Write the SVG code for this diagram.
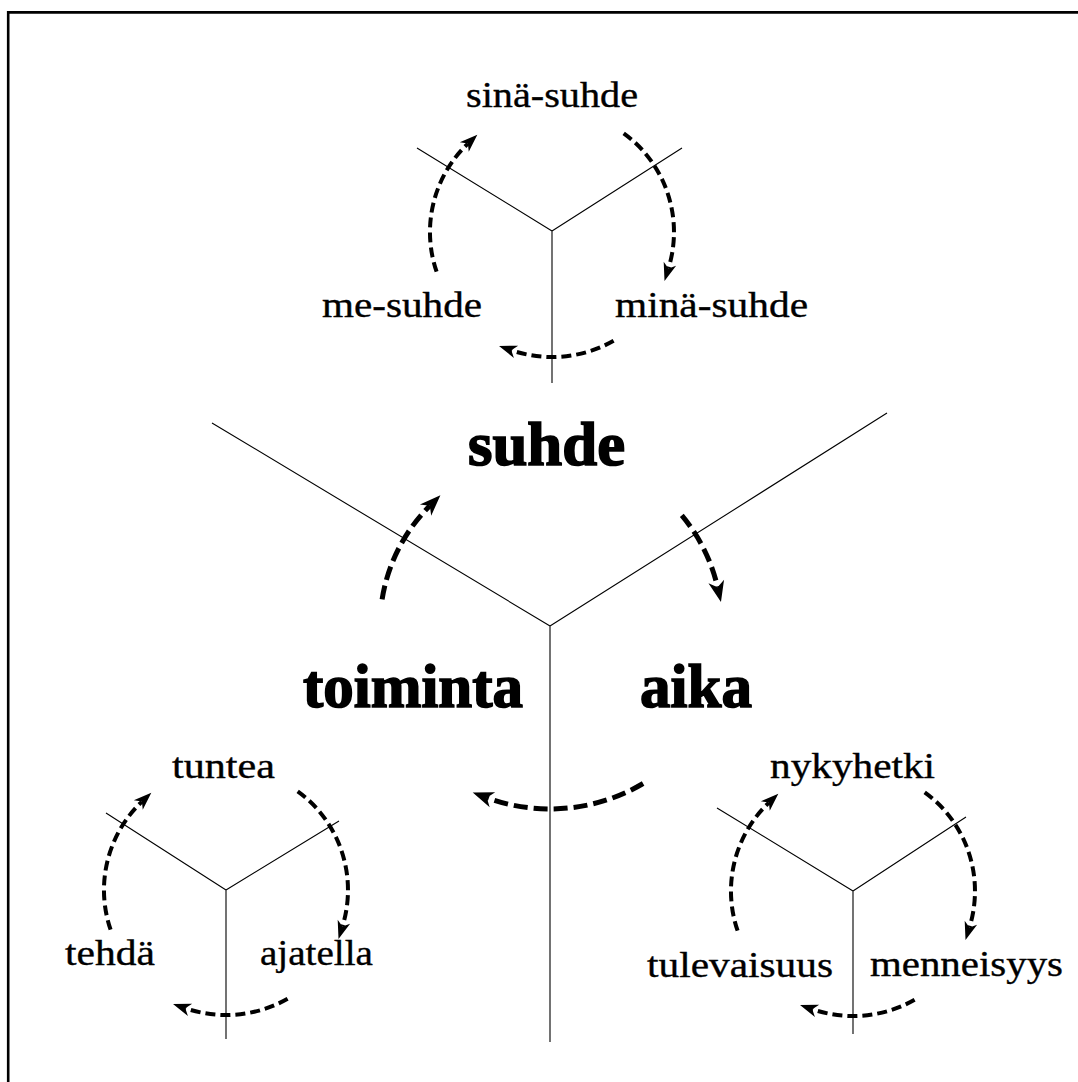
<svg xmlns="http://www.w3.org/2000/svg" width="1078" height="1082" viewBox="0 0 1078 1082">
  <style>
    .axis { stroke: #000; stroke-width: 1.1; fill: none; }
    .frame { stroke: #000; stroke-width: 2.6; fill: none; }
    .cyc { stroke: #000; stroke-width: 4; fill: none; stroke-dasharray: 10 5; marker-end: url(#headS); }
    .cycL { stroke: #000; stroke-width: 5; fill: none; stroke-dasharray: 14 6; marker-end: url(#headL); }
    .lbl { font-family: "Liberation Serif", "Times New Roman", serif; font-size: 35px; fill: #000; stroke: #000; stroke-width: 0.35; }
    .big { font-family: "Liberation Serif", "Times New Roman", serif; font-size: 61px; font-weight: bold; fill: #000; stroke: #000; stroke-width: 1.6; }
  </style>
  <defs>
    <marker id="headS" markerUnits="userSpaceOnUse" orient="auto" overflow="visible" markerWidth="1" markerHeight="1" refX="0" refY="0">
      <path d="M13,0 L-5,-6.5 L0,0 L-5,6.5 Z" fill="#000"/>
    </marker>
    <marker id="headL" markerUnits="userSpaceOnUse" orient="auto" overflow="visible" markerWidth="1" markerHeight="1" refX="0" refY="0">
      <path d="M15,0 L-6,-8 L0,0 L-6,8 Z" fill="#000"/>
    </marker>
  </defs>

  <rect width="1078" height="1082" fill="#fff"/>
  <path class="frame" d="M8.2,1082 V12.4 H1078"/>

  <!-- three-way axes -->
  <g id="axes-main">
    <path class="axis" d="M550,626 L212,423 M550,626 L887,413 M550,626 V1042"/>
  </g>
  <g id="axes-suhde">
    <path class="axis" d="M552,231 L417,148 M552,231 L682,148 M552,231 V383"/>
  </g>
  <g id="axes-toiminta">
    <path class="axis" d="M226,890 L106,813 M226,890 L339,821 M226,890 V1039"/>
  </g>
  <g id="axes-aika">
    <path class="axis" d="M853,891 L717,808 M853,891 L966,817 M853,891 V1034"/>
  </g>

  <!-- cycle arrows -->
  <g id="connectors">
    <path class="cycL" d="M382.1,599.4 A170,170 0 0 1 429.8,505.8"/>
    <path class="cycL" d="M681.8,515.4 A172,172 0 0 1 717.6,587.3"/>
    <path class="cycL" d="M643.1,783.5 A183,183 0 0 1 486.8,797.7"/>

    <path class="cyc" d="M436.6,271.7 A122,122 0 0 1 467.9,143.6"/>
    <path class="cyc" d="M623.7,133.3 A122,122 0 0 1 668.4,268.5"/>
    <path class="cyc" d="M613.6,340.8 A125,125 0 0 1 511.3,350.2"/>

    <path class="cyc" d="M110.6,929.7 A122,122 0 0 1 141.9,801.6"/>
    <path class="cyc" d="M297.7,791.3 A122,122 0 0 1 342.4,926.5"/>
    <path class="cyc" d="M287.6,998.8 A125,125 0 0 1 185.3,1008.2"/>

    <path class="cyc" d="M737.6,930.7 A122,122 0 0 1 768.9,802.6"/>
    <path class="cyc" d="M924.7,792.3 A122,122 0 0 1 969.4,927.5"/>
    <path class="cyc" d="M914.6,999.8 A125,125 0 0 1 812.3,1009.2"/>
  </g>

  <!-- main concepts -->
  <g id="node-suhde"><text class="big" x="468" y="465" textLength="157" lengthAdjust="spacingAndGlyphs">suhde</text></g>
  <g id="node-toiminta"><text class="big" x="303" y="707" textLength="220" lengthAdjust="spacingAndGlyphs">toiminta</text></g>
  <g id="node-aika"><text class="big" x="640" y="707" textLength="112" lengthAdjust="spacingAndGlyphs">aika</text></g>

  <!-- suhde sub-concepts -->
  <g id="node-sina-suhde"><text class="lbl" x="466" y="107" textLength="172" lengthAdjust="spacingAndGlyphs">sinä-suhde</text></g>
  <g id="node-me-suhde"><text class="lbl" x="322" y="317" textLength="160" lengthAdjust="spacingAndGlyphs">me-suhde</text></g>
  <g id="node-mina-suhde"><text class="lbl" x="615" y="317" textLength="193" lengthAdjust="spacingAndGlyphs">minä-suhde</text></g>

  <!-- toiminta sub-concepts -->
  <g id="node-tuntea"><text class="lbl" x="172" y="778" textLength="103" lengthAdjust="spacingAndGlyphs">tuntea</text></g>
  <g id="node-tehda"><text class="lbl" x="65" y="965" textLength="90" lengthAdjust="spacingAndGlyphs">tehdä</text></g>
  <g id="node-ajatella"><text class="lbl" x="260" y="965" textLength="113" lengthAdjust="spacingAndGlyphs">ajatella</text></g>

  <!-- aika sub-concepts -->
  <g id="node-nykyhetki"><text class="lbl" x="770" y="778" textLength="165" lengthAdjust="spacingAndGlyphs">nykyhetki</text></g>
  <g id="node-tulevaisuus"><text class="lbl" x="647" y="977" textLength="186" lengthAdjust="spacingAndGlyphs">tulevaisuus</text></g>
  <g id="node-menneisyys"><text class="lbl" x="870" y="976" textLength="193" lengthAdjust="spacingAndGlyphs">menneisyys</text></g>
</svg>
